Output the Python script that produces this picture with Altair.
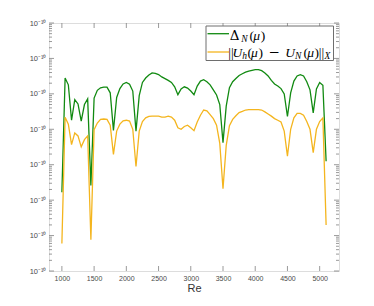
import altair as alt
import pandas as pd

# ---- data ----
re_vals = list(range(1000, 5101, 50))

delta_n = [
    1.66e-8, 2.8e-5, 1.8e-5, 1.8e-6, 6.9e-6, 5.2e-6, 1.7e-6, 5.0e-6, 7.2e-6, 2.6e-8,
    7.6e-6, 1.26e-5, 1.48e-5, 1.55e-5, 1.55e-5, 1.07e-5, 9.3e-7, 7.9e-6, 1.41e-5, 1.9e-5,
    2.1e-5, 1.86e-5, 1.2e-5, 8.9e-7, 8.9e-6, 2.1e-5, 2.8e-5, 3.4e-5, 3.9e-5, 3.8e-5,
    3.5e-5, 3.0e-5, 2.7e-5, 2.4e-5, 2.1e-5, 1.58e-5, 9.5e-6, 1.38e-5, 1.58e-5, 1.45e-5,
    1.2e-5, 9.5e-6, 1.66e-5, 2.3e-5, 2.5e-5, 2.2e-5, 1.8e-5, 1.3e-5, 9.3e-6, 5.0e-6,
    4.2e-7, 4.5e-6, 1.5e-5, 2.2e-5, 2.7e-5, 3.3e-5, 3.7e-5, 4.1e-5, 4.4e-5, 4.6e-5,
    4.8e-5, 4.8e-5, 4.5e-5, 3.9e-5, 3.2e-5, 2.4e-5, 1.9e-5, 1.66e-5, 1.41e-5, 1.0e-5,
    2.3e-6, 1.07e-5, 2.3e-5, 3.2e-5, 3.5e-5, 3.2e-5, 2.2e-5, 1.3e-5, 2.9e-6, 1.38e-5,
    2.1e-5, 1.74e-5, 1.26e-7,
]

err_x = [
    6.0e-10, 2.2e-6, 1.4e-6, 3.7e-7, 7.9e-7, 6.5e-7, 3.2e-7, 5.1e-7, 6.5e-7, 7.6e-10,
    9.8e-7, 1.5e-6, 1.9e-6, 1.95e-6, 1.9e-6, 1.3e-6, 1.95e-7, 8.9e-7, 1.4e-6, 1.74e-6,
    1.8e-6, 1.7e-6, 1.0e-6, 8.9e-8, 8.9e-7, 1.66e-6, 2.1e-6, 2.3e-6, 2.35e-6, 2.35e-6,
    2.35e-6, 2.2e-6, 2.2e-6, 2.35e-6, 2.2e-6, 1.8e-6, 1.1e-6, 1.0e-6, 1.2e-6, 1.3e-6,
    1.1e-6, 9.1e-7, 1.6e-6, 2.5e-6, 3.5e-6, 3.3e-6, 2.6e-6, 2.0e-6, 1.3e-6, 4.0e-7,
    2.1e-8, 3.5e-7, 1.26e-6, 1.9e-6, 2.4e-6, 2.95e-6, 3.2e-6, 3.5e-6, 3.6e-6, 3.6e-6,
    3.6e-6, 3.6e-6, 3.5e-6, 3.1e-6, 2.7e-6, 2.35e-6, 2.0e-6, 1.8e-6, 1.6e-6, 8.9e-7,
    1.74e-7, 1.0e-6, 2.1e-6, 2.8e-6, 2.8e-6, 2.5e-6, 1.66e-6, 1.0e-6, 2.2e-7, 1.0e-6,
    1.66e-6, 2.1e-6, 2.0e-9,
]

x_ticks = [1000, 1500, 2000, 2500, 3000, 3500, 4000, 4500, 5000]
y_exponents = [-10, -9, -8, -7, -6, -5, -4, -3]
y_major = [10.0 ** e for e in y_exponents]
y_minor = [m * 10.0 ** e for e in y_exponents[:-1] for m in range(2, 10)]

sup = {"-": "\u207b", "0": "\u2070", "1": "\u00b9", "2": "\u00b2", "3": "\u00b3",
       "4": "\u2074", "5": "\u2075", "6": "\u2076", "7": "\u2077", "8": "\u2078", "9": "\u2079"}
y_labels = ["10" + "".join(sup[c] for c in str(e)) for e in y_exponents]

# ---- styling ----
W, H = 290, 248
GREEN = "#118a11"
ORANGE = "#f4b51e"
GRAY = "#808080"
LABEL = "#4a4a4a"
SANS = "Liberation Sans"
SERIF = "Liberation Serif"

df = pd.DataFrame({"Re": re_vals, "delta": delta_n, "err": err_x})

xs = alt.Scale(domain=[800, 5300], nice=False, zero=False)
ys = alt.Scale(type="log", domain=[1e-10, 1e-3], nice=False)

expr = "''"
for v, lab in zip(reversed(y_major), reversed(y_labels)):
    expr = f"datum.value > {v * 0.5:.3e} ? '{lab}' : ({expr})"

x_axis = alt.Axis(values=x_ticks, format="d", ticks=False, tickSize=0, domain=False, grid=False,
                  labelFont=SANS, labelFontSize=7, labelColor=LABEL, labelPadding=3,
                  title="Re", titleFont=SANS, titleFontSize=11, titleFontWeight="normal",
                  titleColor="#333333", titlePadding=1)
y_axis = alt.Axis(values=y_major, ticks=False, tickSize=0, domain=False, grid=False,
                  labelFont=SANS, labelFontSize=7.5, labelColor=LABEL, labelPadding=3,
                  labelExpr=expr, title="")

base = alt.Chart(df)
green = base.mark_line(color=GREEN, strokeWidth=1.3).encode(
    x=alt.X("Re:Q", scale=xs, axis=x_axis),
    y=alt.Y("delta:Q", scale=ys, axis=y_axis),
)
orange = base.mark_line(color=ORANGE, strokeWidth=1.3).encode(
    x=alt.X("Re:Q", scale=xs, axis=x_axis),
    y=alt.Y("err:Q", scale=ys, axis=y_axis),
)

def yticks(vals, length):
    d = alt.Chart(pd.DataFrame({"v": vals}))
    left = d.mark_rule(color=GRAY, strokeWidth=0.8).encode(
        y=alt.Y("v:Q", scale=ys, axis=y_axis), x=alt.value(0), x2=alt.value(length))
    right = d.mark_rule(color=GRAY, strokeWidth=0.8).encode(
        y=alt.Y("v:Q", scale=ys, axis=y_axis), x=alt.value(W), x2=alt.value(W - length))
    return [left, right]

def xticks(vals, length):
    d = alt.Chart(pd.DataFrame({"t": vals}))
    bottom = d.mark_rule(color=GRAY, strokeWidth=0.8).encode(
        x=alt.X("t:Q", scale=xs, axis=x_axis), y=alt.value(H), y2=alt.value(H - length))
    top = d.mark_rule(color=GRAY, strokeWidth=0.8).encode(
        x=alt.X("t:Q", scale=xs, axis=x_axis), y=alt.value(0), y2=alt.value(length))
    return [bottom, top]

one = pd.DataFrame({"k": [0]})

# legend
leg_box = alt.Chart(one).mark_rect(fill="white", stroke="#6e6e6e", strokeWidth=1).encode(
    x=alt.value(157), x2=alt.value(284.5), y=alt.value(3), y2=alt.value(37.5))
leg_g = alt.Chart(one).mark_rule(color=GREEN, strokeWidth=1.3).encode(
    x=alt.value(158.5), x2=alt.value(180), y=alt.value(10.7))
leg_o = alt.Chart(one).mark_rule(color=ORANGE, strokeWidth=1.3).encode(
    x=alt.value(158.5), x2=alt.value(180), y=alt.value(29))

def txt(s, x, y, size=13.5, style="normal", font=SERIF):
    return alt.Chart(one).mark_text(text=s, font=font, fontSize=size, fontStyle=style,
                                    align="left", baseline="alphabetic", color="black").encode(
        x=alt.value(x), y=alt.value(y))

b1, b2 = 16.6, 33.6
SUB = 9.5
legend_text = [
    txt("\u0394", 180.8, b1, 13.5, "normal", "DejaVu Serif"),
    txt("N", 192.2, b1 + 2, SUB, "italic"),
    txt("(", 200.5, b1), txt("\u03bc", 204.2, b1, 13.5, "italic"), txt(")", 211.8, b1),
    txt("||", 179.2, b2),
    txt("U", 183.5, b2, 13.5, "italic"),
    txt("h", 193.2, b2 + 2, SUB, "italic"),
    txt("(", 198.4, b2), txt("\u03bc", 202, b2, 13.5, "italic"), txt(")", 209.4, b2),
    txt("\u2212", 219.6, b2, 13.5, "normal", "DejaVu Serif"),
    txt("U", 236.2, b2, 13.5, "italic"),
    txt("N", 246, b2 + 2, SUB, "italic"),
    txt("(", 254.6, b2), txt("\u03bc", 258.2, b2, 13.5, "italic"), txt(")", 265.6, b2),
    txt("||", 269.8, b2),
    txt("X", 275.5, b2 + 2, SUB, "italic"),
]

layers = [green, orange] + yticks(y_major, 5) + yticks(y_minor, 3) + xticks(x_ticks, 5) \
    + [leg_box, leg_g, leg_o] + legend_text

chart = alt.layer(*layers).properties(
    width=W, height=H,
    padding={"left": 41, "top": 15, "right": 20, "bottom": 30},
    autosize=alt.AutoSizeParams(type="none"),
).configure_view(stroke=GRAY, strokeWidth=1).configure(background="white")

chart.save("out.html", embed_options={"renderer": "svg", "actions": False})
